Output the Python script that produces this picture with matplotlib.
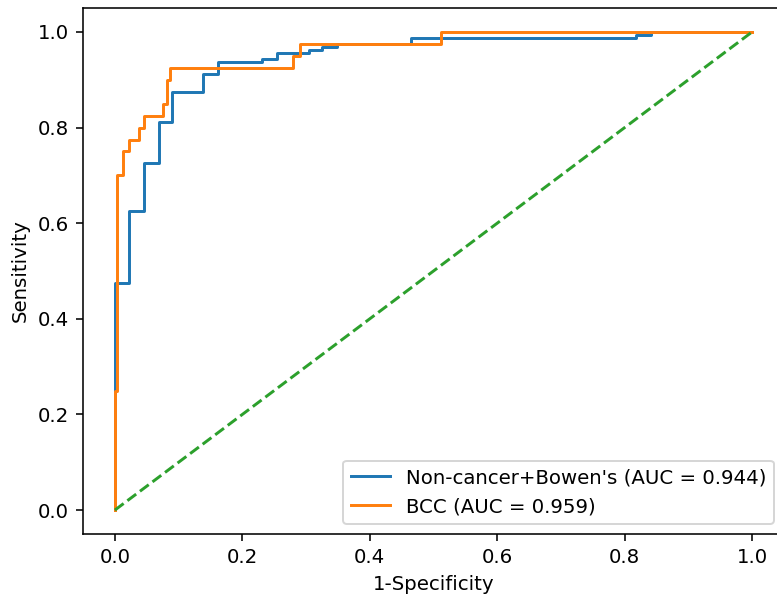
import matplotlib
matplotlib.use("Agg")
import matplotlib.pyplot as plt

# Non-cancer+Bowen's ROC (step corners)
fpr_nc = [0.0, 0.0, 0.022, 0.022, 0.046, 0.046, 0.069, 0.069, 0.090, 0.090,
          0.138, 0.138, 0.162, 0.162, 0.231, 0.231, 0.255, 0.255, 0.304, 0.304,
          0.325, 0.325, 0.349, 0.349, 0.465, 0.465, 0.817, 0.817, 0.841, 0.841, 1.0]
tpr_nc = [0.0, 0.475, 0.475, 0.625, 0.625, 0.725, 0.725, 0.8125, 0.8125, 0.875,
          0.875, 0.9125, 0.9125, 0.9375, 0.9375, 0.9438, 0.9438, 0.9563, 0.9563, 0.9625,
          0.9625, 0.9688, 0.9688, 0.975, 0.975, 0.9875, 0.9875, 0.9938, 0.9938, 1.0, 1.0]
auc_nc = 0.944

# BCC ROC (step corners)
fpr_bcc = [0.0, 0.0, 0.004, 0.004, 0.013, 0.013, 0.022, 0.022, 0.038, 0.038,
           0.046, 0.046, 0.075, 0.075, 0.082, 0.082, 0.086, 0.086, 0.280, 0.280,
           0.290, 0.290, 0.512, 0.512, 1.0]
tpr_bcc = [0.0, 0.25, 0.25, 0.70, 0.70, 0.75, 0.75, 0.775, 0.775, 0.80,
           0.80, 0.825, 0.825, 0.85, 0.85, 0.90, 0.90, 0.925, 0.925, 0.95,
           0.95, 0.975, 0.975, 1.0, 1.0]
auc_bcc = 0.959

labels = ["Non-cancer+Bowen's", "BCC"]
chance = [0.0, 1.0]

W, H, DPI = 777, 594, 142
fig = plt.figure(figsize=(W / DPI, H / DPI), dpi=DPI)
# the original axes extend slightly past the right edge of the image
left, right, top, bottom = 83, 784, 8, 534
ax = fig.add_axes([left / W, 1 - bottom / H, (right - left) / W, (bottom - top) / H])

ax.plot(fpr_nc, tpr_nc, color="tab:blue", label=f"{labels[0]} (AUC = {auc_nc:.3f})")
ax.plot(fpr_bcc, tpr_bcc, color="tab:orange", label=f"{labels[1]} (AUC = {auc_bcc:.3f})")
ax.plot(chance, chance, color="tab:green", linestyle="--")

ax.set_xlabel("1-Specificity")
ax.set_ylabel("Sensitivity")
ax.legend(loc="lower right")

fig.savefig("out.png", dpi=DPI)
